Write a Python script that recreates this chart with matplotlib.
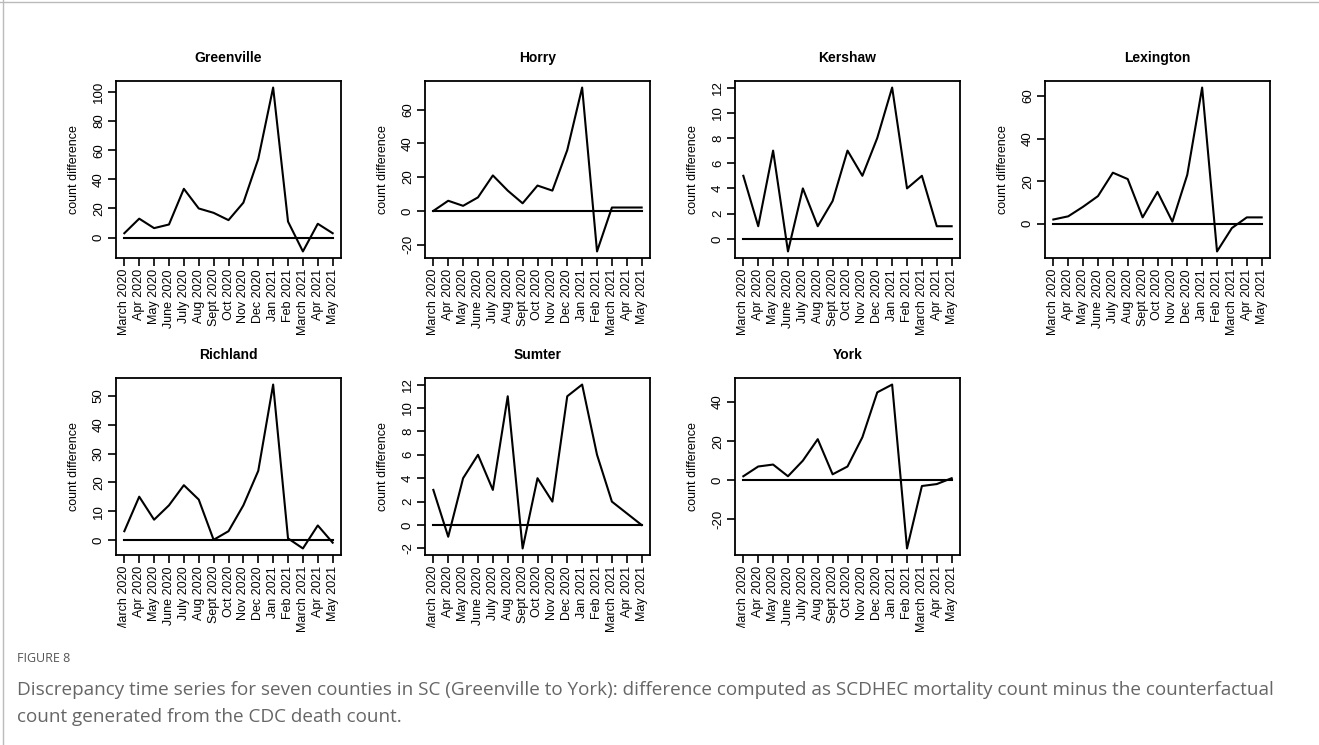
#! usr/bin/env python3

#	import other modules
import numpy as np
import matplotlib
matplotlib.use("Agg")
import matplotlib.pyplot as plt
from matplotlib.lines import Line2D

#	monthly discrepancy (SCDHEC count minus counterfactual count)
months = ['March 2020', 'Apr 2020', 'May 2020', 'June 2020', 'July 2020', 'Aug 2020',
          'Sept 2020', 'Oct 2020', 'Nov 2020', 'Dec 2020', 'Jan 2021', 'Feb 2021',
          'March 2021', 'Apr 2021', 'May 2021']

greenville = [3, 13, 6.5, 9, 33.5, 20, 17, 12, 24, 54, 103, 11, -9.5, 9.5, 3]
horry = [0, 6, 3, 8, 21, 12, 4.5, 15, 12, 36, 73, -24, 2, 2, 2]
kershaw = [5, 1, 7, -1, 4, 1, 3, 7, 5, 8, 12, 4, 5, 1, 1]
lexington = [2, 3.5, 8, 13, 24, 21, 3, 15, 1, 23, 64, -13, -2, 3, 3]
richland = [3, 15, 7, 12, 19, 14, 0, 3, 12, 24, 54, 0.5, -3, 5, -1]
sumter = [3, -1, 4, 6, 3, 11, -2, 4, 2, 11, 12, 6, 2, 1, 0]
york = [2, 7, 8, 2, 10, 21, 3, 7, 22, 45, 49, -35, -3, -2, 1]

counties = ['Greenville', 'Horry', 'Kershaw', 'Lexington', 'Richland', 'Sumter', 'York']
series = [greenville, horry, kershaw, lexington, richland, sumter, york]
yticks = [range(0, 101, 20), range(-20, 61, 20), range(0, 13, 2), range(0, 61, 20),
          range(0, 51, 10), range(-2, 13, 2), range(-20, 41, 20)]

plt.rcParams['font.family'] = ['Liberation Sans', 'DejaVu Sans']

W, H = 1319, 745
fig = plt.figure(figsize=(W / 100, H / 100), dpi=100)

#	panel boxes in pixels: left, top
lefts = [116, 425, 735, 1045]
tops = [81, 378]
pw, ph = 225, 177

x = np.arange(len(months))
for i, (name, vals, yt) in enumerate(zip(counties, series, yticks)):
    row, col = divmod(i, 4)
    ax = fig.add_axes([lefts[col] / W, 1 - (tops[row] + ph) / H, pw / W, ph / H])
    ax.plot(x, vals, color='black', lw=1.5)
    ax.plot(x, np.zeros(len(x)), color='black', lw=1.5)

    #	R style limits: 4% padding on the data range
    lo, hi = min(min(vals), 0), max(vals)
    ax.set_xlim(-0.04 * (len(x) - 1), (len(x) - 1) * 1.04)
    ax.set_ylim(lo - 0.04 * (hi - lo), hi + 0.04 * (hi - lo))

    ax.set_xticks(x)
    ax.set_xticklabels(months, rotation=90, fontsize=9)
    ax.set_yticks(list(yt))
    ax.set_yticklabels([str(v) for v in yt], rotation=90, fontsize=9.5, va='center')
    ax.tick_params(direction='out', length=6, width=1.2, pad=2)
    for sp in ax.spines.values():
        sp.set_linewidth(1.3)
    ax.set_ylabel('count difference', fontsize=9, labelpad=9)
    ax.set_title(name, fontsize=10, fontweight='bold', pad=14)

    #	bottom row: first label runs past the figure region and gets cut
    if row == 1:
        lab = ax.get_xticklabels()[0]
        lab.set_clip_on(True)
        lab.set_clip_box(matplotlib.transforms.Bbox.from_extents(0, H - 628, W, H))

#	frame lines of the figure page
fig.add_artist(Line2D([0, 1], [1 - 2 / H, 1 - 2 / H], color='#bbbbbb', lw=1))
fig.add_artist(Line2D([3 / W, 3 / W], [0, 1], color='#bbbbbb', lw=1))

fig.text(17 / W, 1 - 658 / H, 'FIGURE 8', fontsize=9, color='#555555',
         family='Open Sans', va='center')
fig.text(17 / W, 1 - 690 / H,
         'Discrepancy time series for seven counties in SC (Greenville to York): difference computed as '
         'SCDHEC mortality count minus the counterfactual',
         fontsize=13.6, color='#666666', family='Open Sans', va='center')
fig.text(17 / W, 1 - 717 / H, 'count generated from the CDC death count.',
         fontsize=13.6, color='#666666', family='Open Sans', va='center')

fig.savefig('out.png', dpi=100)
plt.close()
